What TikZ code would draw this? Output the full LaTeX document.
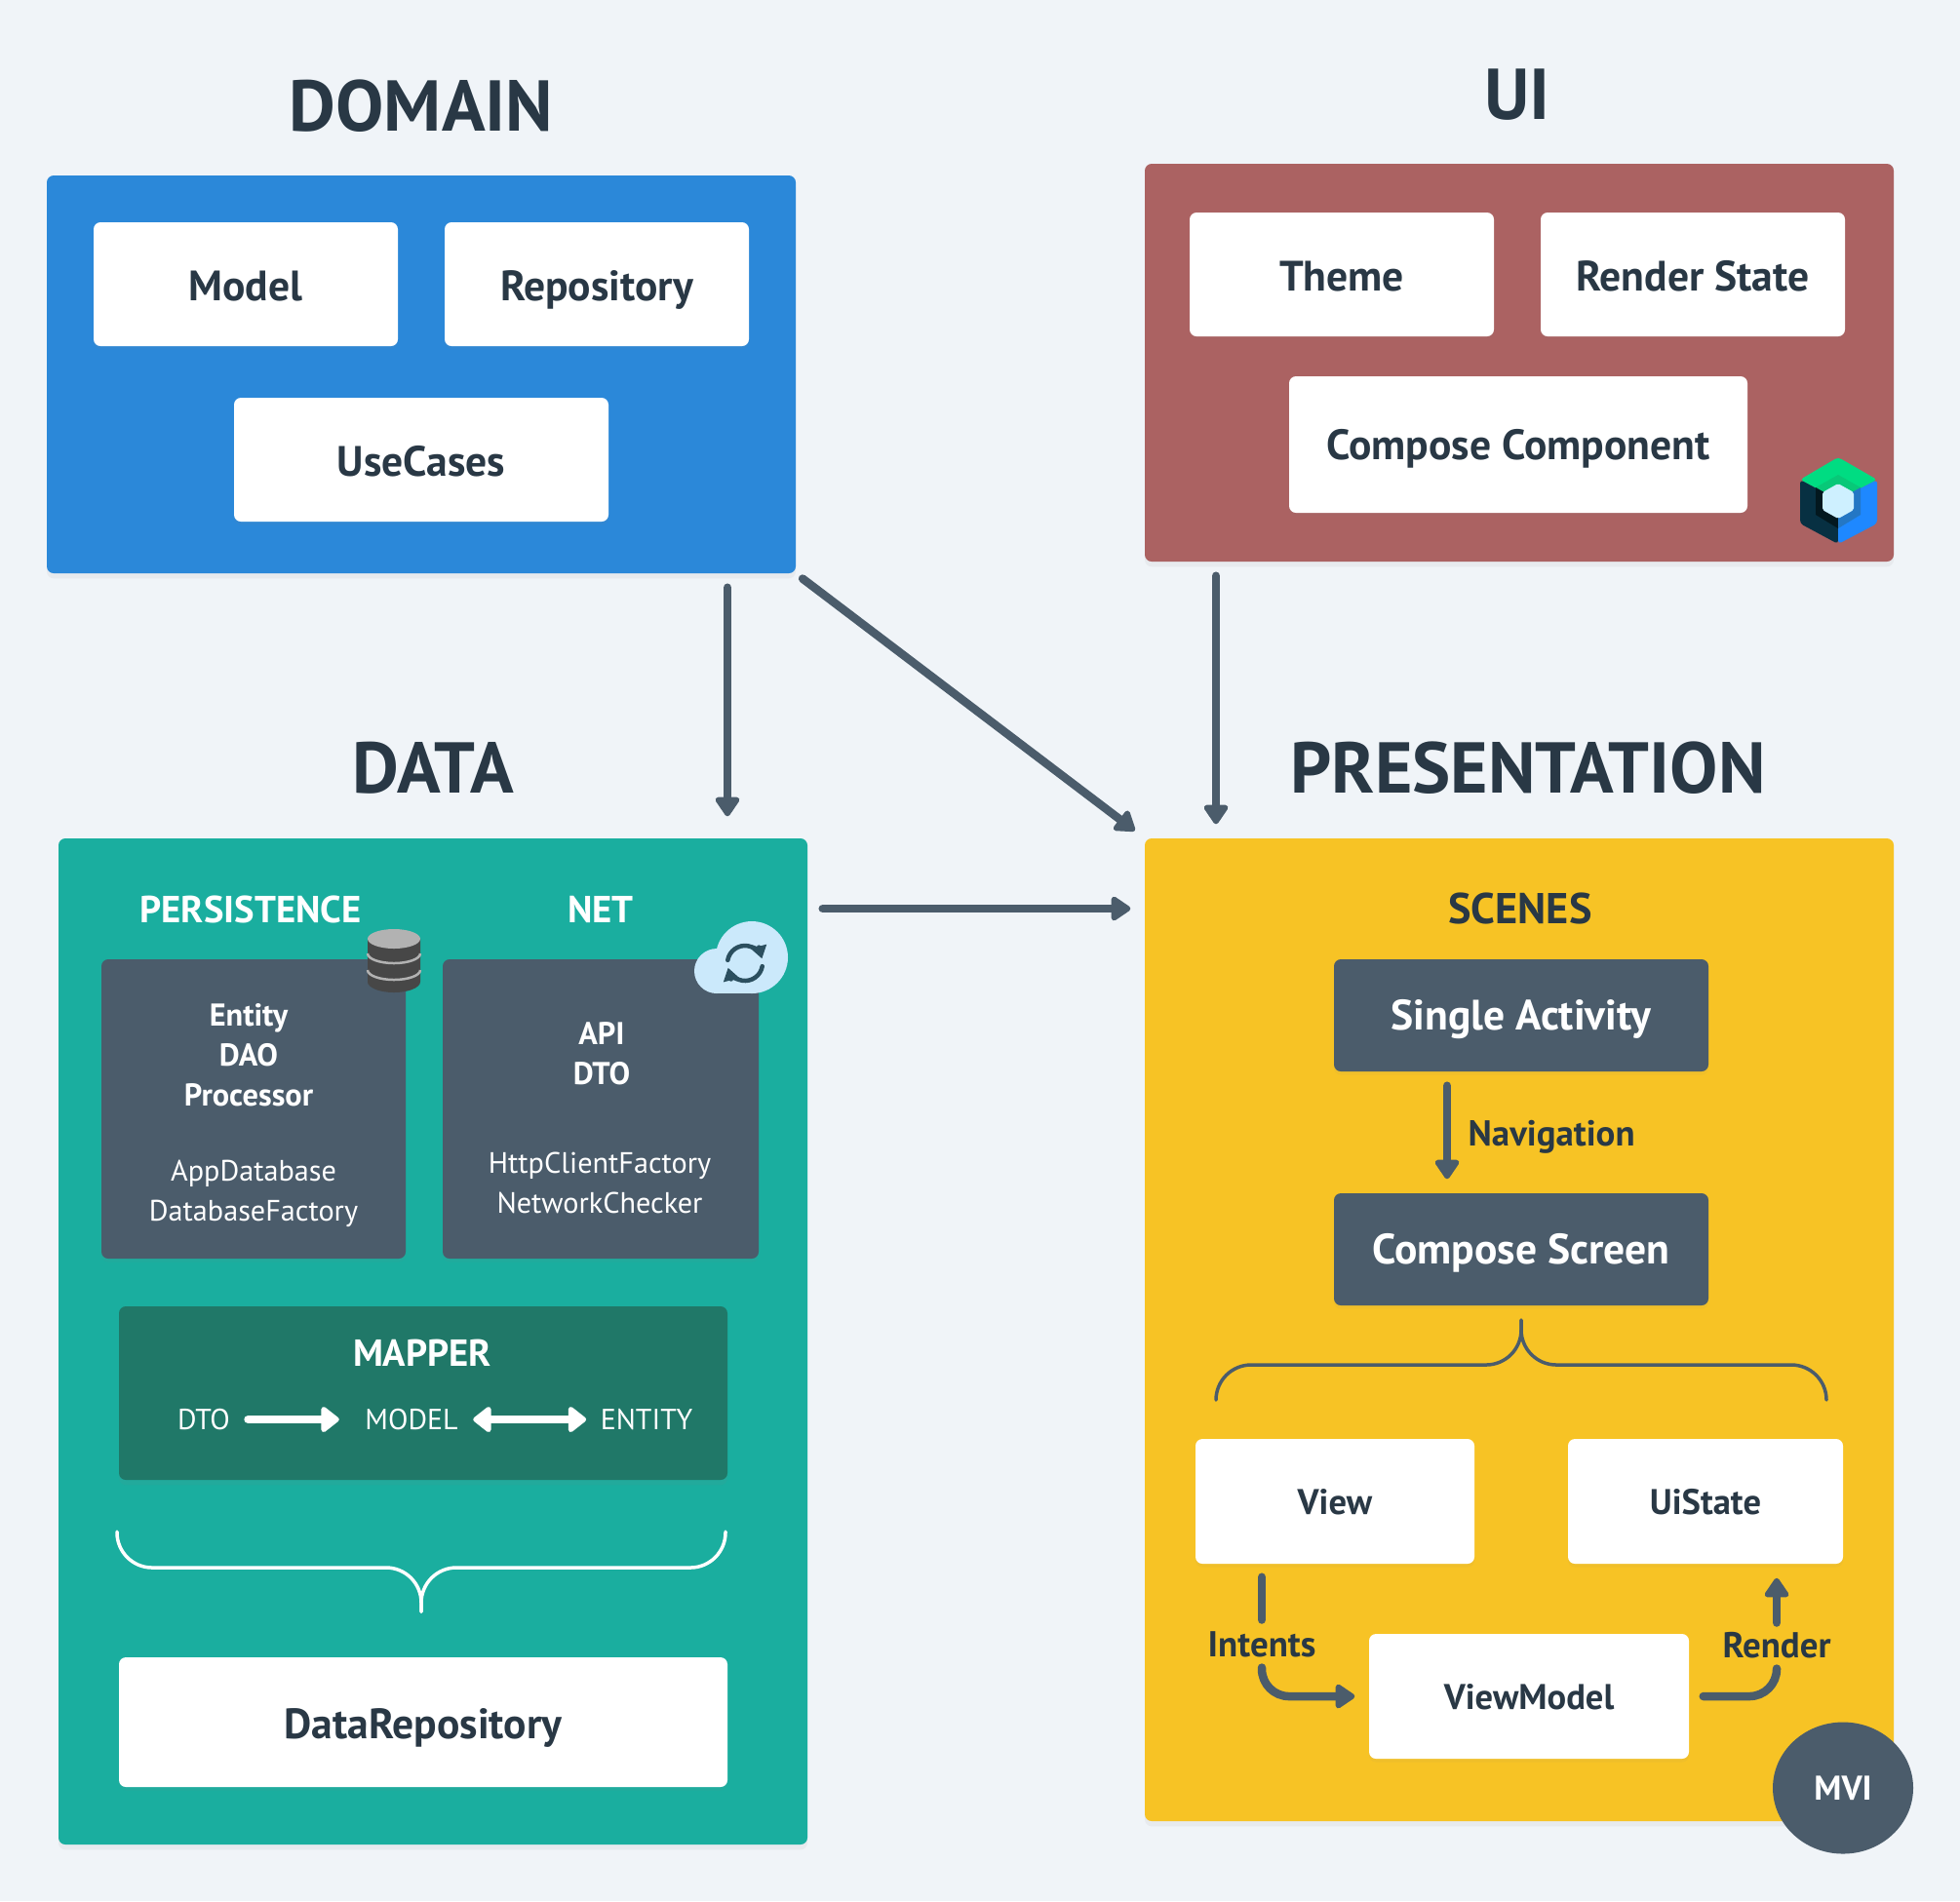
\documentclass[tikz,border=0pt]{standalone}
\usepackage{fontspec}
\setmainfont{PT Sans}
\usetikzlibrary{arrows.meta,positioning,shadows,shapes.geometric}
\definecolor{pagebg}{HTML}{F0F4F8}
\definecolor{domainblue}{HTML}{2B88D9}
\definecolor{uired}{HTML}{AB6262}
\definecolor{datateal}{HTML}{1AAE9F}
\definecolor{presyellow}{HTML}{F7C325}
\definecolor{slate}{HTML}{4B5C6B}
\definecolor{mapgreen}{HTML}{207868}
\definecolor{inktext}{HTML}{293845}
\definecolor{cloudblue}{HTML}{CBE9FB}
\definecolor{iconink}{HTML}{2B4F5F}
\definecolor{jcgreen}{HTML}{00DC82}
\definecolor{jcgreendark}{HTML}{08C878}
\definecolor{jcnavy}{HTML}{073042}
\definecolor{jcnavydark}{HTML}{03181F}
\definecolor{jcblue}{HTML}{1E88FF}
\definecolor{jcbluedark}{HTML}{2477C4}
\definecolor{jclight}{HTML}{CEF0FF}

\begin{document}
\begin{tikzpicture}[
    panel/.style={rectangle,rounded corners=2pt,drop shadow={shadow xshift=0pt,shadow yshift=-1.5pt,opacity=.08}},
    whitebox/.style={rectangle,fill=white,rounded corners=2pt,text=inktext,text height=9.8pt,text depth=0pt,font=\fontsize{12.4}{15}\bfseries\selectfont,drop shadow={shadow xshift=0pt,shadow yshift=-1pt,opacity=.06}},
    slatebox/.style={whitebox,fill=slate,text=white,text height=8.7pt},
    lowerbox/.style={whitebox,text height=7.5pt,font=\fontsize{10.4}{12}\bfseries\selectfont},
    heading/.style={text=inktext,font=\fontsize{21}{25}\bfseries\selectfont,inner sep=0pt},
    subhead/.style={font=\fontsize{11}{13}\bfseries\selectfont,inner sep=0pt},
    small/.style={text=white,align=center,inner sep=0pt},
    smallb/.style={small,font=\fontsize{9.2}{11.7}\bfseries\selectfont},
    smallr/.style={small,font=\fontsize{8.6}{11.6}\selectfont},
    maplabel/.style={small,font=\fontsize{8.5}{12}\selectfont},
    flowlabel/.style={text=inktext,font=\fontsize{10.5}{12}\bfseries\selectfont,inner sep=0pt,text height=7.3pt,text depth=0pt},
    flowline/.style={draw=slate,line width=.085cm,line cap=round},
    flow/.style={flowline,-{Triangle[length=.22cm,width=.28cm,round]}},
    mapflow/.style={draw=white,line width=.085cm,line cap=round},
    bracket/.style={line width=.035cm,line cap=round,rounded corners=.36cm}]
  \fill[pagebg] (0,0) rectangle (20.1,-19.5);
  \useasboundingbox (0,0) rectangle (20.1,-19.5);

  % panels
  \node[panel,fill=domainblue,minimum width=7.68cm,minimum height=4.08cm] (domain) at (4.32,-3.84) {};
  \node[panel,fill=uired,minimum width=7.68cm,minimum height=4.08cm] (ui) at (15.58,-3.72) {};
  \node[panel,fill=datateal,minimum width=7.68cm,minimum height=10.32cm] (data) at (4.44,-13.76) {};
  \node[panel,fill=presyellow,minimum width=7.68cm,minimum height=10.08cm] (presentation) at (15.58,-13.64) {};

  \node[heading] (domaintitle) at (4.32,-1.09) {DOMAIN};
  \node[heading] (uititle) at (15.56,-.97) {UI};
  \node[heading] (datatitle) at (4.44,-7.88) {DATA};
  \node[heading] (prestitle) at (15.67,-7.88) {PRESENTATION};

  % domain
  \node[whitebox,minimum width=3.12cm,minimum height=1.27cm] (model) at (2.52,-2.915) {Model};
  \node[whitebox,minimum width=3.12cm,minimum height=1.27cm] (repository) at (6.12,-2.915) {Repository};
  \node[whitebox,minimum width=3.84cm,minimum height=1.27cm] (usecases) at (4.32,-4.715) {UseCases};

  % ui
  \node[whitebox,minimum width=3.12cm,minimum height=1.27cm] (theme) at (13.76,-2.815) {Theme};
  \node[whitebox,minimum width=3.12cm,minimum height=1.27cm] (renderstate) at (17.36,-2.815) {Render State};
  \node[whitebox,text height=9pt,minimum width=4.7cm,minimum height=1.4cm] (component) at (15.57,-4.56) {Compose Component};
  \fill[rounded corners=1pt,fill=jcgreen] (18.85,-4.69) -- (19.25,-4.92) -- (18.85,-5.13) -- (18.46,-4.92) -- cycle;
  \fill[rounded corners=1pt,fill=jcnavy] (18.46,-4.92) -- (18.85,-5.13) -- (18.85,-5.58) -- (18.46,-5.37) -- cycle;
  \fill[rounded corners=1pt,fill=jcblue] (19.25,-4.92) -- (18.85,-5.13) -- (18.85,-5.58) -- (19.25,-5.37) -- cycle;
  \fill[fill=jcgreendark] (18.85,-4.87) -- (19.08,-5.0) -- (18.85,-5.13) -- (18.62,-5.0) -- cycle;
  \fill[fill=jcnavydark] (18.62,-5.0) -- (18.85,-5.13) -- (18.85,-5.42) -- (18.62,-5.28) -- cycle;
  \fill[fill=jcbluedark] (19.08,-5.0) -- (18.85,-5.13) -- (18.85,-5.42) -- (19.08,-5.28) -- cycle;
  \fill[rounded corners=.5pt,fill=jclight] (18.85,-4.96) -- (19.01,-5.05) -- (19.01,-5.23) -- (18.85,-5.32) -- (18.69,-5.23) -- (18.69,-5.05) -- cycle;

  % data
  \node[subhead,text=white] (persistence) at (2.57,-9.33) {PERSISTENCE};
  \node[subhead,text=white] (net) at (6.16,-9.33) {NET};
  \node[slatebox,minimum width=3.12cm,minimum height=3.07cm] (persbox) at (2.6,-11.375) {};
  \node[slatebox,minimum width=3.24cm,minimum height=3.07cm] (netbox) at (6.16,-11.375) {};
  \node[smallb] (entity) at (2.55,-10.82) {Entity\\DAO\\Processor};
  \node[smallr] (appdb) at (2.6,-12.24) {AppDatabase\\DatabaseFactory};
  \node[smallb] (api) at (6.17,-10.805) {API\\DTO};
  \node[smallr] (http) at (6.15,-12.13) {HttpClientFactory\\NetworkChecker};

  % database icon
  \fill[black!72] (3.77,-9.63) -- (3.77,-10.07) arc (180:360:.27 and .11) -- (4.31,-9.63) -- cycle;
  \draw[black!30,line width=.025cm] (3.77,-9.78) arc (180:360:.27 and .1);
  \draw[black!30,line width=.025cm] (3.77,-9.95) arc (180:360:.27 and .1);
  \fill[black!30] (4.04,-9.63) ellipse (.27 and .1);

  % cloud icon
  \fill[cloudblue] (7.71,-9.82) circle (.37);
  \fill[cloudblue] (7.35,-9.96) circle (.23);
  \fill[cloudblue] (7.35,-10.19) rectangle (7.71,-9.9);
  \draw[draw=iconink,line width=.045cm,line cap=round,-{Triangle[length=.13cm,width=.16cm]}] (7.64,-9.88) ++(170:.18) arc (170:15:.18);
  \draw[draw=iconink,line width=.045cm,line cap=round,-{Triangle[length=.13cm,width=.16cm]}] (7.64,-9.88) ++(350:.18) arc (350:195:.18);

  \node[panel,fill=mapgreen,minimum width=6.24cm,minimum height=1.78cm] (mapper) at (4.34,-14.29) {};
  \node[subhead,text=white] (mappertitle) at (4.33,-13.88) {MAPPER};
  \node[maplabel] (dtolabel) at (2.09,-14.56) {DTO};
  \node[maplabel] (modellabel) at (4.22,-14.56) {MODEL};
  \node[maplabel] (entitylabel) at (6.63,-14.56) {ENTITY};
  \draw[mapflow,-{Triangle[length=.2cm,width=.3cm,round]},shorten <=.18cm,shorten >=.26cm] (dtolabel) -- (modellabel);
  \draw[mapflow,{Triangle[length=.2cm,width=.3cm,round]}-{Triangle[length=.2cm,width=.3cm,round]},shorten <=.15cm,shorten >=.14cm] (modellabel) -- (entitylabel);

  \coordinate (dbrace) at (4.32,-16.53);
  \draw[bracket,draw=white] (1.2,-15.71) -- (1.2,-16.08) -- (4.32,-16.08) -- (dbrace);
  \draw[bracket,draw=white] (7.44,-15.71) -- (7.44,-16.08) -- (4.32,-16.08) -- (dbrace);
  \node[whitebox,minimum width=6.24cm,minimum height=1.33cm] (datarepo) at (4.34,-17.665) {DataRepository};

  % presentation
  \node[subhead,text=inktext,font=\fontsize{12.6}{15}\bfseries\selectfont] (scenes) at (15.59,-9.32) {SCENES};
  \node[slatebox,minimum width=3.84cm,minimum height=1.15cm] (single) at (15.6,-10.415) {Single Activity};
  \node[slatebox,minimum width=3.84cm,minimum height=1.15cm] (screen) at (15.6,-12.815) {Compose Screen};
  \node[flowlabel,anchor=west] (navigation) at (15.05,-11.63) {Navigation};
  \coordinate (navx) at (14.84,0);
  \draw[flow,shorten <=.14cm,shorten >=.14cm] (single.south -| navx) -- (screen.north -| navx);

  \coordinate (pbrace) at (15.6,-13.54);
  \draw[bracket,draw=slate] (12.47,-14.36) -- (12.47,-14.0) -- (15.6,-14.0) -- (pbrace);
  \draw[bracket,draw=slate] (18.73,-14.36) -- (18.73,-14.0) -- (15.6,-14.0) -- (pbrace);

  \node[lowerbox,minimum width=2.86cm,minimum height=1.28cm] (view) at (13.69,-15.4) {View};
  \node[lowerbox,minimum width=2.82cm,minimum height=1.28cm] (uistate) at (17.49,-15.4) {UiState};
  \node[lowerbox,minimum width=3.28cm,minimum height=1.28cm] (viewmodel) at (15.68,-17.4) {ViewModel};
  \node[flowlabel] (intents) at (12.94,-16.87) {Intents};
  \node[flowlabel] (render) at (18.22,-16.88) {Render};
  \draw[flowline,shorten <=.13cm,shorten >=.12cm] (view.south -| intents) -- (intents);
  \draw[flow,rounded corners=.28cm,shorten <=.1cm,shorten >=.14cm] (intents.south) |- (viewmodel.west);
  \draw[flowline,rounded corners=.28cm,shorten <=.14cm,shorten >=.1cm] (viewmodel.east) -| (render.south);
  \draw[flow,shorten <=.1cm,shorten >=.14cm] (render.north) -- (uistate.south -| render);

  \node[ellipse,fill=slate,minimum width=1.44cm,minimum height=1.35cm,text=white,font=\fontsize{10}{12}\bfseries\selectfont] (mvi) at (18.9,-18.34) {MVI};

  % between panels
  \coordinate (domainx) at (7.46,0);
  \coordinate (uix) at (12.47,0);
  \draw[flow,shorten <=.14cm,shorten >=.22cm] (domain.south -| domainx) -- (data.north -| domainx);
  \draw[flow,shorten <=.08cm,shorten >=.12cm] (domain.south east) -- (presentation.north west);
  \draw[flow,shorten <=.14cm,shorten >=.14cm] (ui.south -| uix) -- (presentation.north -| uix);
  \draw[flow,shorten <=.15cm,shorten >=.14cm] (data.east |- scenes) -- (presentation.west |- scenes);
\end{tikzpicture}
\end{document}
